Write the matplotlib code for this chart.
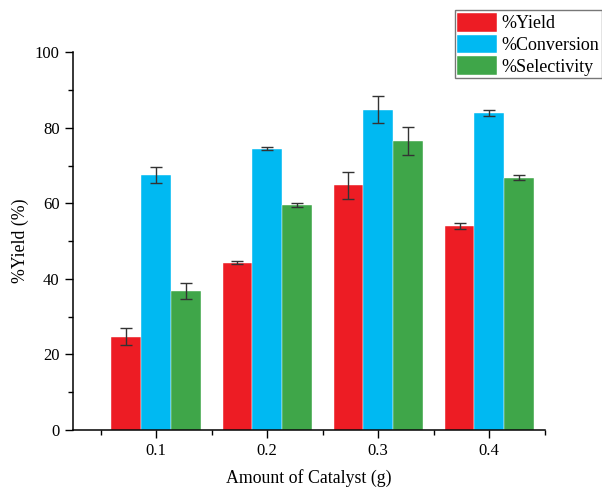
import numpy as np
import matplotlib.pyplot as plt
from matplotlib.ticker import MultipleLocator

plt.rcParams['font.family'] = ['Liberation Serif', 'DejaVu Serif']

# data
catalyst = [0.1, 0.2, 0.3, 0.4]
series_names = ['%Yield', '%Conversion', '%Selectivity']
yield_vals = [24.7, 44.3, 64.8, 54.0]
yield_err = [2.3, 0.4, 3.6, 0.8]
conv_vals = [67.5, 74.5, 84.8, 83.9]
conv_err = [2.2, 0.4, 3.6, 0.8]
sel_vals = [36.8, 59.5, 76.5, 66.8]
sel_err = [2.2, 0.5, 3.6, 0.7]
colors = ['#ED1C24', '#00B9F2', '#3FA649']

fig = plt.figure(figsize=(6.02, 4.88), dpi=100)
ax = fig.add_axes([0.121, 0.119, 0.784, 0.774])

w = 0.0268
x = np.array(catalyst)
all_vals = [yield_vals, conv_vals, sel_vals]
all_err = [yield_err, conv_err, sel_err]
for i, (v, e) in enumerate(zip(all_vals, all_err)):
    ax.bar(x + (i - 1) * w, v, width=w, color=colors[i], edgecolor='white',
           linewidth=0.3, label=series_names[i],
           yerr=e, capsize=4,
           error_kw=dict(ecolor='#333333', elinewidth=1, capthick=1))

ax.set_xlim(0.025, 0.45)
ax.set_ylim(0, 100)
ax.set_xticks(catalyst)
ax.set_xticklabels(['0.1', '0.2', '0.3', '0.4'])
ax.set_xticks([0.05, 0.15, 0.25, 0.35, 0.45], minor=True)
ax.yaxis.set_major_locator(MultipleLocator(20))
ax.yaxis.set_minor_locator(MultipleLocator(10))
ax.tick_params(which='major', direction='out', length=6, width=1, labelsize=12)
ax.tick_params(which='minor', direction='out', length=3.5, width=1)
for s in ['top', 'right']:
    ax.spines[s].set_visible(False)
for s in ['left', 'bottom']:
    ax.spines[s].set_linewidth(1.1)

ax.set_xlabel('Amount of Catalyst (g)', fontsize=12.8, labelpad=7)
ax.set_ylabel('%Yield (%)', fontsize=12.8, labelpad=4)

leg = ax.legend(loc='upper right', bbox_to_anchor=(1.121, 1.111), fontsize=13,
                frameon=True, fancybox=False, edgecolor='#555555',
                handlelength=2.2, handleheight=1.2, handletextpad=0.25,
                labelspacing=0.13, borderpad=0.15, borderaxespad=0)
leg.get_frame().set_linewidth(1.0)

fig.savefig('out.png', dpi=100)
